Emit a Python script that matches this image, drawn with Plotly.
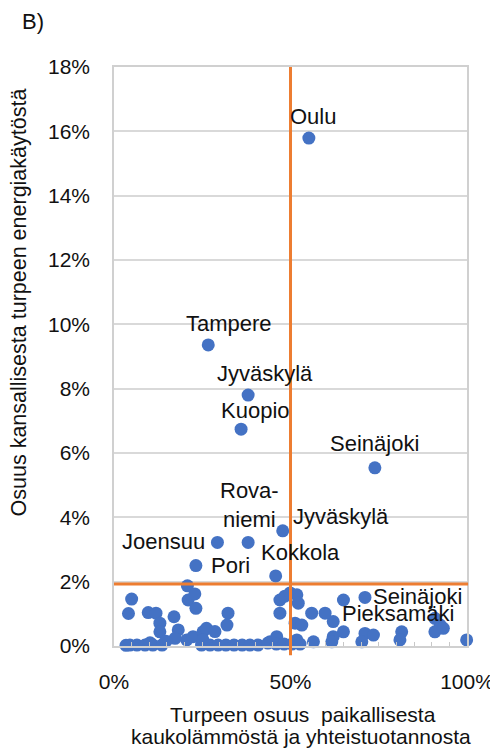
import plotly.graph_objects as go

# labelled municipalities (share of local DH peat, share of national peat use)
names = ["Oulu", "Tampere", "Jyväskylä", "Kuopio", "Seinäjoki", "Rova-<br>niemi",
         "Jyväskylä", "Joensuu", "Pori", "Kokkola", "Seinäjoki", "Pieksamäki"]
lab_x = [55.2, 26.7, 38.0, 36.0, 73.9, 38.0, 47.8, 29.3, 23.2, 45.8, 71.1, 59.8]
lab_y = [15.79, 9.36, 7.80, 6.74, 5.54, 3.22, 3.58, 3.22, 2.50, 2.18, 1.51, 1.02]

# the rest of the points (percent)
pts_x = [5.0, 4.1, 9.7, 11.9, 13.0, 13.0, 17.0, 18.2, 17.3,
         3.4, 4.5, 6.5, 8.8, 11.0, 13.6, 10.2, 14.7,
         20.8, 21.0, 22.9, 23.2, 20.6, 22.4, 24.8, 25.2, 26.2, 28.6, 32.3, 32.0, 25.2,
         27.2, 29.5, 31.7, 34.0, 36.3, 38.5, 40.8,
         44.2, 46.1, 47.0, 48.4, 47.0, 49.9, 51.8, 52.2, 51.3, 53.2, 51.8,
         43.6, 46.0, 48.2, 50.4, 52.7,
         56.0, 62.1, 56.5, 62.1, 61.7, 65.0, 65.0, 71.1, 70.2, 73.5,
         81.5, 81.0, 90.9, 92.4, 90.9, 93.3, 99.9]
pts_y = [1.46, 1.01, 1.04, 1.02, 0.71, 0.44, 0.91, 0.50, 0.24,
         0.02, 0.03, 0.03, 0.03, 0.03, 0.03, 0.10, 0.15,
         1.87, 1.43, 1.62, 1.17, 0.19, 0.29, 0.03, 0.44, 0.55, 0.45, 1.02, 0.65, 0.19,
         0.03, 0.03, 0.03, 0.03, 0.03, 0.03, 0.03,
         0.13, 0.29, 1.43, 1.55, 1.02, 1.65, 1.59, 1.33, 0.71, 0.65, 0.19,
         0.09, 0.06, 0.06, 0.06, 0.06,
         1.02, 0.76, 0.13, 0.29, 0.13, 0.44, 1.43, 0.39, 0.13, 0.34,
         0.44, 0.19, 0.86, 0.65, 0.44, 0.55, 0.19]

# reference lines
x_split = 50.0
y_split = 1.93

y_max = 18.0
blue = "#4472C4"
orange = "#ED7D31"
font = "Liberation Sans"

fig = go.Figure()
fig.add_trace(go.Scatter(
    x=[v / 100 for v in pts_x + lab_x], y=[v / 100 for v in pts_y + lab_y],
    mode="markers", marker=dict(color=blue, size=13, line=dict(width=0)),
    cliponaxis=False, showlegend=False))

# label offsets (px): xshift, yshift, anchor
offs = [(4, 22, "center"), (21, 21, "center"), (17, 22, "center"), (14, 19, "center"),
        (0, 24, "center"), (1, 37, "center"), (8, 14, "left"), (-10, 1, "right"),
        (13, 0, "left"), (25, 23, "center"), (6, 1, "left"), (15, 0, "left")]
for n, x, y, (dx, dy, xa) in zip(names, lab_x, lab_y, offs):
    fig.add_annotation(x=x / 100, y=y / 100, text=n, showarrow=False,
                       xshift=dx, yshift=dy, xanchor=xa, yanchor="middle",
                       font=dict(family=font, size=22, color="#111"))

fig.add_shape(type="line", xref="paper", yref="paper",
              x0=x_split / 100, x1=x_split / 100, y0=-0.016, y1=1,
              line=dict(color=orange, width=3))
fig.add_shape(type="line", xref="paper", yref="paper",
              x0=0, x1=1.003, y0=y_split / y_max, y1=y_split / y_max,
              line=dict(color=orange, width=3))

fig.add_annotation(text="B)", xref="x domain", yref="y domain",
                   x=-0.266, y=1.078, xanchor="left", yanchor="middle", showarrow=False,
                   font=dict(family=font, size=22, color="#111"))
fig.add_annotation(text="Osuus kansallisesta turpeen energiakäytöstä", textangle=-90,
                   xref="x domain", yref="y domain", x=-0.268, y=0.594,
                   xanchor="center", yanchor="middle", showarrow=False,
                   font=dict(family=font, size=21.5, color="#111"))
# x title, two lines placed separately for tighter line spacing
fig.add_annotation(text="Turpeen osuus  paikallisesta",
                   xref="x domain", yref="y domain", x=0.535, y=-0.119,
                   xanchor="center", yanchor="middle", showarrow=False,
                   font=dict(family=font, size=21, color="#111"))
fig.add_annotation(text="kaukolämmöstä ja yhteistuotannosta",
                   xref="x domain", yref="y domain", x=0.53, y=-0.157,
                   xanchor="center", yanchor="middle", showarrow=False,
                   font=dict(family=font, size=21, color="#111"))

fig.update_xaxes(range=[0, 1], dtick=0.5, tickformat=".0%", showgrid=False, zeroline=False,
                 showline=True, mirror=True, linecolor="#d0d0d0", linewidth=1.5,
                 ticks="", ticklabelstandoff=16, automargin=False,
                 minor=dict(dtick=0.05, ticks="inside", ticklen=4, tickcolor="#c8c8c8", showgrid=False),
                 tickfont=dict(family=font, size=21, color="#111"))
fig.update_yaxes(range=[0, y_max / 100], dtick=0.02, tickformat=".0%", showgrid=True,
                 gridcolor="#d9d9d9", gridwidth=1.5, zeroline=False,
                 showline=True, mirror=True, linecolor="#d0d0d0", linewidth=1.5,
                 ticks="", ticklabelstandoff=18, automargin=False,
                 tickfont=dict(family=font, size=21, color="#111"))
# the page body adds an 8px margin, so the figure is drawn 8px smaller
fig.update_layout(width=490, height=747, margin=dict(l=106, r=31, t=59, b=109),
                  plot_bgcolor="white", paper_bgcolor="white", showlegend=False)
fig.write_html("out.html")
